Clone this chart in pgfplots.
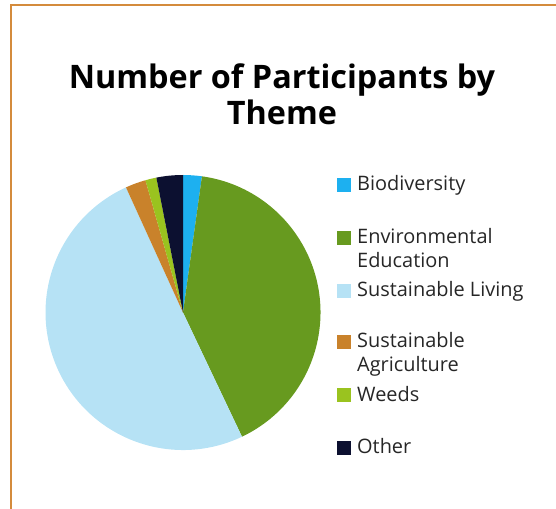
\documentclass[border=0pt]{standalone}
\usepackage{pgfplots}
\pgfplotsset{compat=1.18}
\usepackage{pgfplotstable}
\usepackage{fontspec}
\setmainfont{Open Sans}

\definecolor{bio}{HTML}{1DB0F0}
\definecolor{envedu}{HTML}{679A1F}
\definecolor{living}{HTML}{B6E2F5}
\definecolor{agri}{HTML}{C9822B}
\definecolor{weeds}{HTML}{9AC31F}
\definecolor{other}{HTML}{0C1030}
\definecolor{frame}{HTML}{D48B3C}

% share of participants (%), clockwise from 12 o'clock
\pgfplotstableread{
share colour
2.2  bio
40.7 envedu
50.2 living
2.4  agri
1.3  weeds
3.1  other
}\themes

\begin{document}
\begin{tikzpicture}
\useasboundingbox (0,0) rectangle (556bp,509bp);
\draw[frame, line width=2bp] (11bp,0) -- (11bp,504bp) -- (556bp,504bp);

\begin{axis}[
    at={(0,0)}, anchor=origin,
    x=1bp, y=1bp, scale only axis,
    xmin=0, xmax=556, ymin=0, ymax=509,
    hide axis, clip=false,
  ]
  \pgfplotstablegetrowsof{\themes}
  \pgfmathtruncatemacro\lastrow{\pgfplotsretval-1}
  \def\total{0}
  \pgfplotsforeachungrouped \i in {0,...,\lastrow}{
    \pgfplotstablegetelem{\i}{share}\of\themes
    \pgfmathsetmacro\total{\total+\pgfplotsretval}
  }
  \pgfmathsetmacro\degper{360/\total}
  \def\cum{0}
  \pgfplotsforeachungrouped \i in {0,...,\lastrow}{
    \pgfplotstablegetelem{\i}{share}\of\themes
    \let\val\pgfplotsretval
    \pgfplotstablegetelem{\i}{colour}\of\themes
    \let\slicecol\pgfplotsretval
    \pgfmathsetmacro\angA{90-\degper*\cum}
    \pgfmathsetmacro\cum{\cum+\val}
    \pgfmathsetmacro\angB{90-\degper*\cum}
    \edef\slice{\noexpand\fill[\slicecol] (axis cs:183,196.5) -- ++(\angA:137.5bp)
      arc[start angle=\angA, end angle=\angB, radius=137.5bp] -- cycle;}
    \slice
  }
\end{axis}

% title
\begin{scope}[font=\fontsize{32.5}{39}\bfseries\selectfont]
  \node[anchor=base] at (282bp,420.7bp) {Number of Participants by};
  \node[anchor=base] at (282bp,384bp) {Theme};
\end{scope}

% legend
\begin{scope}[font=\fontsize{20}{24}\selectfont, text=black!85]
  \foreach \col/\yb/\txt/\txtb in {
      bio/191/Biodiversity/,
      envedu/244/Environmental/Education,
      living/297/Sustainable Living/,
      agri/348/Sustainable/Agriculture,
      weeds/401.5/Weeds/,
      other/454/Other/}{
    \fill[\col] (337bp,509bp-\yb bp+13bp) rectangle ++(14bp,-14bp);
    \node[anchor=base west, inner sep=0pt] at (357bp,509bp-\yb bp) {\txt};
    \node[anchor=base west, inner sep=0pt] at (357bp,509bp-\yb bp-24bp) {\txtb};
  }
\end{scope}
\end{tikzpicture}
\end{document}
